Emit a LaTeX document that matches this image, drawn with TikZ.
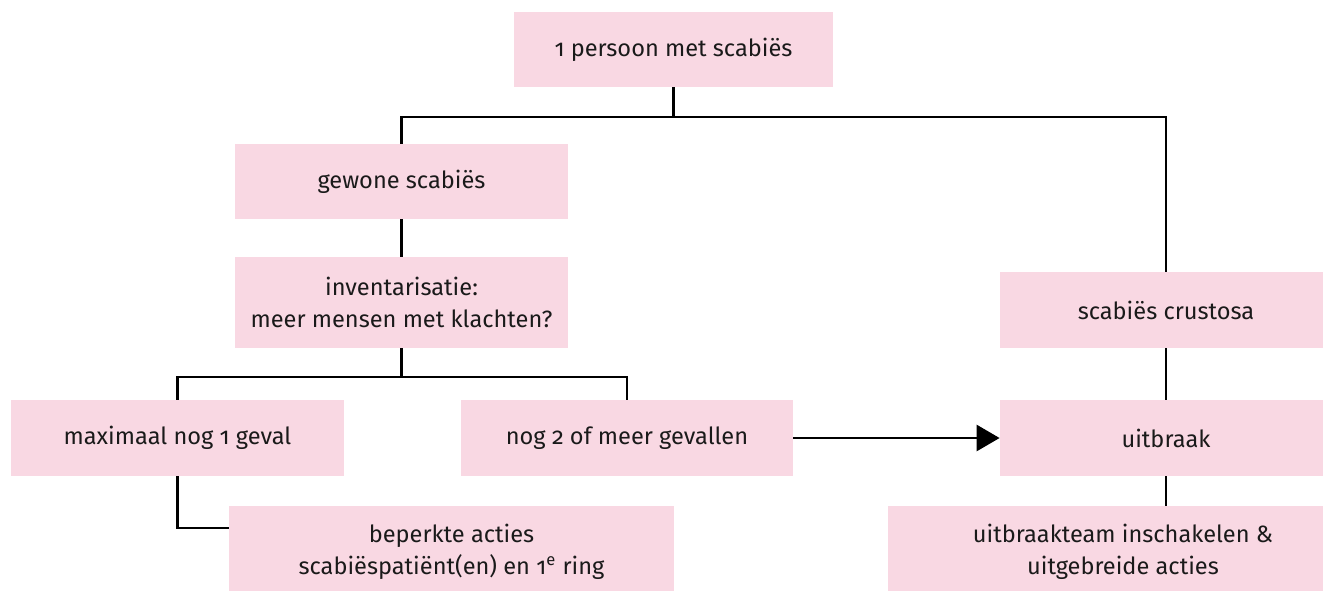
\documentclass[tikz,border=0pt]{standalone}
\usepackage{fontspec}
\setmainfont[Numbers=OldStyle]{Fira Sans}
\usetikzlibrary{arrows.meta}
\definecolor{boxpink}{RGB}{249,216,227}
\definecolor{inktext}{RGB}{26,26,26}
\begin{document}
\begin{tikzpicture}[x=0.5pt, y=-0.5pt,
  flowbox/.style={fill=boxpink, text=inktext, align=center, inner sep=0pt, font=\fontsize{11.8}{15.8}\selectfont},
  link/.style={line width=1.4pt}]
\useasboundingbox (0,0) rectangle (1323,590);
\node[flowbox, minimum width=159.5pt, minimum height=37.5pt] (top) at (673.5,49.5) {1 persoon met scabiës};
\node[flowbox, minimum width=166.5pt, minimum height=37.5pt] (gewone) at (401.5,181.5) {gewone scabiës};
\node[flowbox, minimum width=166.5pt, minimum height=45.5pt] (inv) at (401.5,302.5) {inventarisatie:\\meer mensen met klachten?};
\node[flowbox, minimum width=166.5pt, minimum height=38pt] (max) at (177.5,438) {maximaal nog 1 geval};
\node[flowbox, minimum width=166pt, minimum height=38pt] (nog) at (627,438) {nog 2 of meer gevallen};
\node[flowbox, minimum width=222.5pt, minimum height=46pt] (beperkt) at (451.5,552) {beperkte acties\\scabiëspatiënt(en) en 1\textsuperscript{e} ring};
\node[flowbox, minimum width=166pt, minimum height=38pt] (crust) at (1166,310) {scabiës crustosa};
\node[flowbox, minimum width=166pt, minimum height=38pt] (uitbraak) at (1166,438) {uitbraak};
\node[flowbox, minimum width=235pt, minimum height=46pt] (team) at (1123,552) {uitbraakteam inschakelen \&\\uitgebreide acties};

\coordinate (split) at (673.5,117);
\coordinate (split2) at (401.5,377);
\draw[link] (top) -- (split);
\draw[link] (gewone.north) |- (split) -| (crust.north);
\draw[link] (gewone) -- (inv);
\draw[link] (inv) -- (split2);
\draw[link] (max.north) |- (split2) -| (nog.north);
\draw[link] (max.south) |- ([yshift=12pt]beperkt.west);
\draw[link, -{Triangle[length=11.5pt, width=13pt]}] (nog) -- (uitbraak);
\draw[link] (crust) -- (uitbraak);
\draw[link] (uitbraak.south) -- (uitbraak.south |- team.north);
\end{tikzpicture}
\end{document}
